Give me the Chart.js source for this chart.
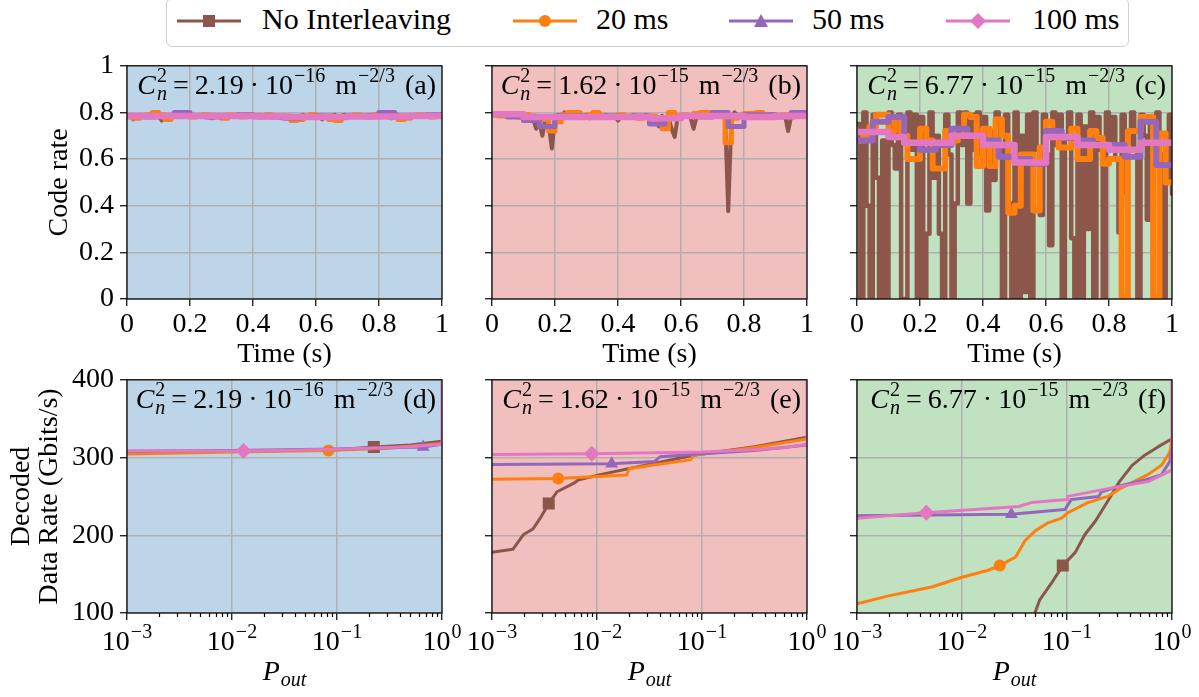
<!DOCTYPE html>
<html lang="en">
<head>
<meta charset="UTF-8">
<title>Code rate and decoded data rate</title>
<script src="https://cdn.jsdelivr.net/npm/chart.js"></script>
<style>
  body { margin: 0; background: #fff; width: 1199px; height: 697px; position: relative; overflow: hidden; }
  canvas { position: absolute; }
  #legend { position: absolute; left: 166px; top: -2px; width: 963px; height: 49px; box-sizing: border-box;
            border: 1.5px solid #d0d0d0; border-radius: 6px; background: #fff; }
  #legend svg { position: absolute; top: 10px; }
  #legend span { position: absolute; top: 5px; font: 30px "Liberation Serif", serif; line-height: 30px; color: #000; white-space: nowrap; }
</style>
</head>
<body>
<div id="legend">
  <svg style="left:10px" width="64" height="24"><line x1="0" y1="12" x2="64" y2="12" stroke="#8c564b" stroke-width="3"/><rect x="26" y="6" width="12" height="12" fill="#8c564b"/></svg>
  <span style="left:95px">No Interleaving</span>
  <svg style="left:346px" width="64" height="24"><line x1="0" y1="12" x2="64" y2="12" stroke="#ff7f0e" stroke-width="3"/><circle cx="32" cy="12" r="6" fill="#ff7f0e"/></svg>
  <span style="left:429px">20 ms</span>
  <svg style="left:562px" width="64" height="24"><line x1="0" y1="12" x2="64" y2="12" stroke="#9467bd" stroke-width="3"/><polygon points="32,5 39,18 25,18" fill="#9467bd"/></svg>
  <span style="left:645px">50 ms</span>
  <svg style="left:779px" width="64" height="24"><line x1="0" y1="12" x2="64" y2="12" stroke="#e377c2" stroke-width="3"/><polygon points="32,4 40,12 32,20 24,12" fill="#e377c2"/></svg>
  <span style="left:865px">100 ms</span>
</div>
<canvas id="pa" width="462" height="336" style="left:0px;top:43px"></canvas>
<canvas id="pb" width="375" height="336" style="left:452px;top:43px"></canvas>
<canvas id="pc" width="375" height="336" style="left:817px;top:43px"></canvas>
<canvas id="pd" width="462" height="340" style="left:0px;top:357px"></canvas>
<canvas id="pe" width="375" height="340" style="left:452px;top:357px"></canvas>
<canvas id="pf" width="375" height="340" style="left:817px;top:357px"></canvas>
<script>
// ---------- time grids (s) ----------
const timeFine = [0,0.01,0.02,0.03,0.04,0.05,0.06,0.07,0.08,0.09,
  0.1,0.11,0.12,0.13,0.14,0.15,0.16,0.17,0.18,0.19,
  0.2,0.21,0.22,0.23,0.24,0.25,0.26,0.27,0.28,0.29,
  0.3,0.31,0.32,0.33,0.34,0.35,0.36,0.37,0.38,0.39,
  0.4,0.41,0.42,0.43,0.44,0.45,0.46,0.47,0.48,0.49,
  0.5,0.51,0.52,0.53,0.54,0.55,0.56,0.57,0.58,0.59,
  0.6,0.61,0.62,0.63,0.64,0.65,0.66,0.67,0.68,0.69,
  0.7,0.71,0.72,0.73,0.74,0.75,0.76,0.77,0.78,0.79,
  0.8,0.81,0.82,0.83,0.84,0.85,0.86,0.87,0.88,0.89,
  0.9,0.91,0.92,0.93,0.94,0.95,0.96,0.97,0.98,0.99,1];
const time20 = [0,0.02,0.04,0.06,0.08,0.1,0.12,0.14,0.16,0.18,
  0.2,0.22,0.24,0.26,0.28,0.3,0.32,0.34,0.36,0.38,
  0.4,0.42,0.44,0.46,0.48,0.5,0.52,0.54,0.56,0.58,
  0.6,0.62,0.64,0.66,0.68,0.7,0.72,0.74,0.76,0.78,
  0.8,0.82,0.84,0.86,0.88,0.9,0.92,0.94,0.96,0.98,1];
const time50 = [0,0.05,0.1,0.15,0.2,0.25,0.3,0.35,0.4,0.45,0.5,0.55,0.6,0.65,0.7,0.75,0.8,0.85,0.9,0.95,1];
const time100 = [0,0.1,0.2,0.3,0.4,0.5,0.6,0.7,0.8,0.9,1];
const timePinkC = [0,0.1,0.15,0.3,0.4,0.5,0.6,0.7,0.8,0.9,1];

// ---------- code rate, panel (a) ----------
const rateBrownA = [0.785,0.79,0.77,0.785,0.79,0.785,0.78,0.79,0.785,0.78,
  0.79,0.765,0.785,0.77,0.79,0.785,0.78,0.79,0.795,0.785,
  0.78,0.79,0.785,0.78,0.79,0.785,0.78,0.775,0.79,0.785,
  0.78,0.785,0.79,0.78,0.785,0.79,0.78,0.785,0.79,0.785,
  0.78,0.785,0.79,0.78,0.785,0.79,0.785,0.78,0.785,0.775,
  0.785,0.78,0.77,0.785,0.78,0.785,0.79,0.78,0.785,0.78,
  0.785,0.78,0.77,0.785,0.78,0.785,0.79,0.78,0.785,0.79,
  0.78,0.785,0.79,0.78,0.785,0.78,0.785,0.79,0.785,0.78,
  0.79,0.785,0.795,0.78,0.775,0.785,0.79,0.77,0.785,0.78,
  0.785,0.79,0.78,0.785,0.79,0.78,0.785,0.79,0.785,0.78,0.785];
const rateOrangeA = [0.78,0.775,0.785,0.79,0.80,0.79,0.77,0.785,0.79,0.795,
  0.78,0.785,0.79,0.78,0.785,0.775,0.79,0.785,0.78,0.79,
  0.785,0.78,0.79,0.785,0.78,0.785,0.765,0.77,0.785,0.79,
  0.785,0.78,0.77,0.765,0.78,0.785,0.79,0.785,0.78,0.79,
  0.80,0.785,0.78,0.77,0.775,0.785,0.79,0.785,0.78,0.79,0.79];
const ratePurpleA = [0.785,0.78,0.785,0.80,0.785,0.78,0.785,0.79,0.785,0.78,0.775,0.78,0.785,0.78,0.785,0.785,0.80,0.78,0.785,0.79,0.79];
const ratePinkA = [0.785,0.785,0.785,0.785,0.783,0.78,0.78,0.783,0.783,0.785,0.785];

// ---------- code rate, panel (b) ----------
const rateBrownB = [0.79,0.795,0.785,0.79,0.785,0.78,0.79,0.785,0.78,0.79,
  0.785,0.78,0.785,0.775,0.73,0.76,0.70,0.78,0.75,0.645,
  0.78,0.79,0.785,0.80,0.785,0.79,0.785,0.78,0.79,0.785,
  0.78,0.775,0.785,0.79,0.785,0.78,0.79,0.785,0.78,0.785,
  0.765,0.785,0.79,0.78,0.785,0.79,0.785,0.78,0.785,0.79,
  0.78,0.785,0.77,0.74,0.785,0.76,0.78,0.73,0.695,0.785,
  0.78,0.785,0.79,0.78,0.73,0.785,0.79,0.785,0.78,0.79,
  0.785,0.78,0.79,0.785,0.78,0.377,0.77,0.80,0.785,0.79,
  0.785,0.78,0.785,0.79,0.785,0.78,0.79,0.785,0.78,0.79,
  0.785,0.78,0.785,0.79,0.72,0.785,0.79,0.785,0.78,0.79,0.79];
const rateOrangeB = [0.79,0.785,0.79,0.785,0.78,0.79,0.785,0.78,0.77,0.72,
  0.76,0.79,0.80,0.80,0.785,0.79,0.80,0.785,0.78,0.785,
  0.79,0.78,0.785,0.775,0.78,0.785,0.77,0.73,0.80,0.785,
  0.79,0.785,0.795,0.80,0.80,0.79,0.785,0.67,0.775,0.785,
  0.795,0.795,0.80,0.785,0.79,0.785,0.79,0.78,0.785,0.79,0.79];
const ratePurpleB = [0.79,0.78,0.765,0.74,0.785,0.785,0.78,0.785,0.78,0.785,0.75,0.775,0.785,0.78,0.80,0.74,0.79,0.79,0.78,0.80,0.80];
const ratePinkB = [0.792,0.78,0.78,0.78,0.78,0.775,0.785,0.785,0.78,0.785,0.785];

// ---------- code rate, panel (c) ----------
const rateBrownC = [0.75,0.00,0.80,0.40,0.00,0.79,0.52,0.00,0.68,0.00,
  0.80,0.66,0.56,0.79,0.00,0.00,0.80,0.64,0.79,0.00,
  0.78,0.00,0.28,0.80,0.52,0.70,0.28,0.00,0.79,0.62,
  0.00,0.41,0.80,0.66,0.80,0.41,0.79,0.64,0.80,0.62,
  0.78,0.38,0.72,0.51,0.80,0.65,0.00,0.79,0.41,0.00,
  0.80,0.00,0.70,0.03,0.79,0.00,0.80,0.64,0.36,0.79,
  0.62,0.23,0.80,0.66,0.79,0.00,0.70,0.80,0.26,0.00,
  0.79,0.00,0.74,0.30,0.80,0.00,0.78,0.64,0.00,0.80,
  0.68,0.78,0.60,0.285,0.79,0.455,0.66,0.80,0.64,0.00,
  0.79,0.70,0.34,0.78,0.64,0.80,0.62,0.00,0.50,0.79,0.45];
const rateOrangeC = [0.68,0.70,0.74,0.79,0.79,0.72,0.78,0.70,0.60,0.60,
  0.73,0.68,0.56,0.56,0.72,0.68,0.70,0.79,0.78,0.57,
  0.73,0.57,0.77,0.70,0.37,0.40,0.62,0.62,0.38,0.65,
  0.76,0.72,0.65,0.65,0.73,0.60,0.60,0.72,0.69,0.58,
  0.60,0.60,0.00,0.72,0.72,0.78,0.78,0.00,0.71,0.50,0.50];
const ratePurpleC = [0.68,0.76,0.78,0.67,0.64,0.66,0.73,0.70,0.68,0.61,0.60,0.58,0.72,0.69,0.68,0.66,0.66,0.61,0.76,0.575,0.575];
const ratePinkC = [0.716,0.695,0.67,0.70,0.66,0.585,0.695,0.66,0.64,0.67,0.67];

// ---------- decoded data rate vs P_out ----------
const poutBrownD = [0.001,0.01,0.1,0.224,0.5,1];
const gbpsBrownD = [306,308,310,313.5,316,321];
const poutOrangeD = [0.001,0.01,0.083,0.3,1];
const gbpsOrangeD = [304.5,307,309,312,318];
const poutPurpleD = [0.001,0.01,0.1,0.66,1];
const gbpsPurpleD = [308,309,311,313.5,317];
const poutPinkD = [0.001,0.0129,0.1,0.5,1,1];
const gbpsPinkD = [308.5,308.5,310.5,314,317,405];

const poutBrownE = [0.001,0.00158,0.002,0.00245,0.00288,0.00347,0.00417,0.00603,0.00661,0.0107,0.0204,0.0832,0.316,1];
const gbpsBrownE = [178,182,201,208,222,241,256,267,271,278,286,303,314,326];
const poutOrangeE = [0.001,0.00427,0.0191,0.0204,0.0372,0.0776,0.0832,0.316,1];
const gbpsOrangeE = [272,273,277.5,286,291,297,303,313,324];
const poutPurpleE = [0.001,0.0138,0.0355,0.0398,0.1,0.316,1];
const gbpsPurpleE = [291,292,295,301,305,309,316];
const poutPinkE = [0.001,0.00891,0.1,0.316,0.631,1,1];
const gbpsPinkE = [304,305,307,310,313,317,405];

const poutBrownF = [0.0447,0.0501,0.055,0.0708,0.0912,0.12,0.148,0.186,0.245,0.316,0.417,0.55,0.741,1];
const gbpsBrownF = [90,102,117,138,161,178,201,218,244,269,290,303,314,324];
const poutOrangeF = [0.001,0.002,0.00513,0.01,0.0178,0.0229,0.0324,0.0398,0.0501,0.0661,0.0891,0.102,0.158,0.245,0.331,0.589,0.794,0.955,1];
const gbpsOrangeF = [112,122,133.5,146,155,161,172,193,206,216,222,229,242,250,261,278,290,307,324];
const poutPurpleF = [0.001,0.0295,0.0955,0.11,0.2,0.214,0.309,0.55,0.794,0.955,1];
const gbpsPurpleF = [225,227,233,246,250,256,263,271,278,295,312];
const poutPinkF = [0.001,0.00457,0.0347,0.0457,0.1,0.102,0.269,0.589,1,1];
const gbpsPinkF = [222,229,237,242,246,250,261,269,284,405];

// index of the single marker drawn on each P_out curve
const markBrown = {d: 3, e: 5, f: 4};
const markOrange = {d: 2, e: 1, f: 5};
const markPurple = {d: 3, e: 1, f: 1};
const markPink = {d: 1, e: 1, f: 1};

// axis ticks
const logTicks = [0.001,0.002,0.003,0.004,0.005,0.006,0.007,0.008,0.009,
  0.01,0.02,0.03,0.04,0.05,0.06,0.07,0.08,0.09,
  0.1,0.2,0.3,0.4,0.5,0.6,0.7,0.8,0.9,1];
const logTickLabels = {0.001: '−3', 0.01: '−2', 0.1: '−1', 1: '0'};

const panelCn = [['2.19', '−16'], ['1.62', '−15'], ['6.77', '−15']];

// ---------- styling ----------
const SERIF = '"Liberation Serif", "Times New Roman", serif';
const FS = 28, FSS = 20;
const GRID = '#b0b0b0';
const C = {brown: '#8c564b', orange: '#ff7f0e', purple: '#9467bd', pink: '#e377c2'};
const BG = ['#bcd5e8', '#f2bfbf', '#c0e2c0'];

function fontOf(s) { return (s.it ? 'italic ' : '') + s.size + 'px ' + SERIF; }

function drawRich(ctx, segs, x, y, align) {
  let cx = 0, hold = null;
  const placed = [];
  for (const s of segs) {
    ctx.font = fontOf(s);
    const w = ctx.measureText(s.t).width;
    if (hold) { placed.push([s, hold.x]); cx = hold.x + Math.max(hold.w, w); hold = null; continue; }
    cx += s.pre || 0;
    placed.push([s, cx]);
    if (s.hold) hold = {x: cx, w}; else cx += w;
  }
  const x0 = align === 'center' ? x - cx / 2 : align === 'right' ? x - cx : x;
  ctx.save();
  ctx.fillStyle = '#000';
  ctx.textAlign = 'left';
  ctx.textBaseline = 'alphabetic';
  for (const [s, px] of placed) {
    ctx.font = fontOf(s);
    ctx.fillText(s.t, x0 + px, y + (s.dy || 0));
  }
  ctx.restore();
}

function cnSegs(val, exp, tag) {
  return [
    {t: 'C', size: 28, it: true},
    {t: '2', size: 20, dy: -12, hold: true, pre: 1},
    {t: 'n', size: 20, it: true, dy: 6},
    {t: '=', size: 28, pre: 6},
    {t: val, size: 28, pre: 6},
    {t: '·', size: 28, pre: 6},
    {t: '10', size: 28, pre: 6},
    {t: exp, size: 20, dy: -12, pre: 1},
    {t: 'm', size: 28, pre: 10},
    {t: '−2/3', size: 20, dy: -12, pre: 1},
    {t: tag, size: 28, pre: 10}
  ];
}

const isDecade = v => Math.abs(Math.log10(v) - Math.round(Math.log10(v))) < 1e-9;

const panelDecor = {
  id: 'panelDecor',
  beforeDraw(chart, args, o) {
    const {ctx, chartArea: a} = chart;
    ctx.save();
    ctx.fillStyle = o.bg;
    ctx.fillRect(a.left, a.top, a.right - a.left, a.bottom - a.top);
    ctx.restore();
  },
  afterDraw(chart, args, o) {
    const {ctx, chartArea: a} = chart;
    const xs = chart.scales.x;
    ctx.save();
    ctx.strokeStyle = '#000';
    ctx.lineWidth = 1.2;
    if (o.log) {
      ctx.beginPath();
      logTicks.filter(v => !isDecade(v)).forEach(v => {
        const px = Math.round(xs.getPixelForValue(v)) + 0.5;
        ctx.moveTo(px, a.bottom);
        ctx.lineTo(px, a.bottom + 4);
      });
      ctx.stroke();
      logTicks.filter(isDecade).forEach(v => {
        drawRich(ctx, [{t: '10', size: FS}, {t: logTickLabels[v], size: FSS, dy: -12, pre: 1}],
          xs.getPixelForValue(v), a.bottom + 37, 'center');
      });
      drawRich(ctx, [{t: 'P', size: FS, it: true}, {t: 'out', size: FSS, it: true, dy: 6, pre: 1}],
        (a.left + a.right) / 2, a.bottom + 67, 'center');
    }
    ctx.strokeRect(a.left, a.top, a.right - a.left, a.bottom - a.top);
    ctx.restore();
    drawRich(ctx, cnSegs(o.cn[0], o.cn[1], o.tag), a.right - 6, a.top + 28, 'right');
  }
};
Chart.register(panelDecor);

function line(xs, ys, color, order, width, extra) {
  return Object.assign({
    data: xs.map((x, i) => ({x, y: ys[i]})),
    borderColor: color, backgroundColor: color,
    borderWidth: width, pointRadius: 0, order,
    borderJoinStyle: 'round', borderCapStyle: 'round', tension: 0
  }, extra || {});
}
function marked(xs, ys, color, order, idx, style, r) {
  return line(xs, ys, color, order, 3, {
    pointStyle: style,
    pointRadius: c => c.dataIndex === idx ? r : 0,
    pointBorderWidth: 0,
    pointBackgroundColor: color
  });
}

function yTitle(text, pad) {
  return {display: true, text, color: '#000', font: {family: SERIF, size: FS, lineHeight: 1}, padding: {top: pad, bottom: 0}};
}
const shortNum = v => String(Math.round(v * 10) / 10);

function makePanel(id, col, row, datasets) {
  const left = col === 0;
  const tickFont = {family: SERIF, size: FS};
  const x = row === 0 ? {
    type: 'linear', min: 0, max: 1,
    afterFit: s => { s.height = 80; },
    ticks: {stepSize: 0.2, color: '#000', font: tickFont, padding: 2, maxRotation: 0, autoSkip: false, callback: shortNum},
    grid: {color: GRID, lineWidth: 1.5, tickColor: '#000', tickLength: 7, tickWidth: 1.2},
    border: {display: false},
    title: {display: true, text: 'Time (s)', color: '#000', font: {family: SERIF, size: FS, lineHeight: 1}, padding: {top: 0, bottom: 10}}
  } : {
    type: 'logarithmic', min: 0.001, max: 1,
    afterFit: s => { s.height = 84; },
    afterBuildTicks: s => { s.ticks = logTicks.map(v => ({value: v})); },
    ticks: {callback: () => '', autoSkip: false, maxRotation: 0},
    grid: {
      color: c => (c.tick && isDecade(c.tick.value)) ? GRID : 'rgba(0,0,0,0)',
      tickColor: c => (c.tick && isDecade(c.tick.value)) ? '#000' : 'rgba(0,0,0,0)',
      lineWidth: 1.5, tickLength: 7, tickWidth: 1.2
    },
    border: {display: false}
  };
  const y = {
    type: 'linear',
    min: row === 0 ? 0 : 100, max: row === 0 ? 1 : 400,
    afterFit: s => { s.width = left ? 127 : 40; },
    ticks: {stepSize: row === 0 ? 0.2 : 100, color: '#000', font: tickFont, padding: 6,
      callback: left ? (row === 0 ? shortNum : (v => String(v))) : () => ''},
    grid: {color: GRID, lineWidth: 1.5, tickColor: '#000', tickLength: 7, tickWidth: 1.2},
    border: {display: false},
    title: left ? (row === 0 ? yTitle('Code rate', 46) : yTitle(['Decoded', 'Data Rate (Gbits/s)'], 8)) : {display: false}
  };
  return new Chart(document.getElementById(id), {
    type: 'line',
    data: {datasets},
    options: {
      responsive: false, animation: false, events: [],
      layout: {padding: {left: 0, right: 20, top: 20, bottom: 0}, autoPadding: false},
      plugins: {
        legend: {display: false}, tooltip: {enabled: false},
        panelDecor: {bg: BG[col], cn: panelCn[col], tag: '(' + 'abcdef'[row * 3 + col] + ')', log: row === 1}
      },
      scales: {x, y}
    }
  });
}

const stepped = {stepped: true};
makePanel('pa', 0, 0, [
  line(timeFine, rateBrownA, C.brown, 4, 4),
  line(time20, rateOrangeA, C.orange, 3, 5, stepped),
  line(time50, ratePurpleA, C.purple, 2, 5, stepped),
  line(time100, ratePinkA, C.pink, 1, 6.5, stepped)
]);
makePanel('pb', 1, 0, [
  line(timeFine, rateBrownB, C.brown, 4, 4),
  line(time20, rateOrangeB, C.orange, 3, 5, stepped),
  line(time50, ratePurpleB, C.purple, 2, 5, stepped),
  line(time100, ratePinkB, C.pink, 1, 6.5, stepped)
]);
makePanel('pc', 2, 0, [
  line(timeFine, rateBrownC, C.brown, 4, 4.5, stepped),
  line(time20, rateOrangeC, C.orange, 3, 6, stepped),
  line(time50, ratePurpleC, C.purple, 2, 6, stepped),
  line(timePinkC, ratePinkC, C.pink, 1, 6.5, stepped)
]);
makePanel('pd', 0, 1, [
  marked(poutBrownD, gbpsBrownD, C.brown, 4, markBrown.d, 'rect', 8.5),
  marked(poutOrangeD, gbpsOrangeD, C.orange, 3, markOrange.d, 'circle', 6),
  marked(poutPurpleD, gbpsPurpleD, C.purple, 2, markPurple.d, 'triangle', 7.5),
  marked(poutPinkD, gbpsPinkD, C.pink, 1, markPink.d, 'rectRot', 8)
]);
makePanel('pe', 1, 1, [
  marked(poutBrownE, gbpsBrownE, C.brown, 4, markBrown.e, 'rect', 8.5),
  marked(poutOrangeE, gbpsOrangeE, C.orange, 3, markOrange.e, 'circle', 6),
  marked(poutPurpleE, gbpsPurpleE, C.purple, 2, markPurple.e, 'triangle', 7.5),
  marked(poutPinkE, gbpsPinkE, C.pink, 1, markPink.e, 'rectRot', 8)
]);
makePanel('pf', 2, 1, [
  marked(poutBrownF, gbpsBrownF, C.brown, 4, markBrown.f, 'rect', 8.5),
  marked(poutOrangeF, gbpsOrangeF, C.orange, 3, markOrange.f, 'circle', 6),
  marked(poutPurpleF, gbpsPurpleF, C.purple, 2, markPurple.f, 'triangle', 7.5),
  marked(poutPinkF, gbpsPinkF, C.pink, 1, markPink.f, 'rectRot', 8)
]);
</script>
</body>
</html>
